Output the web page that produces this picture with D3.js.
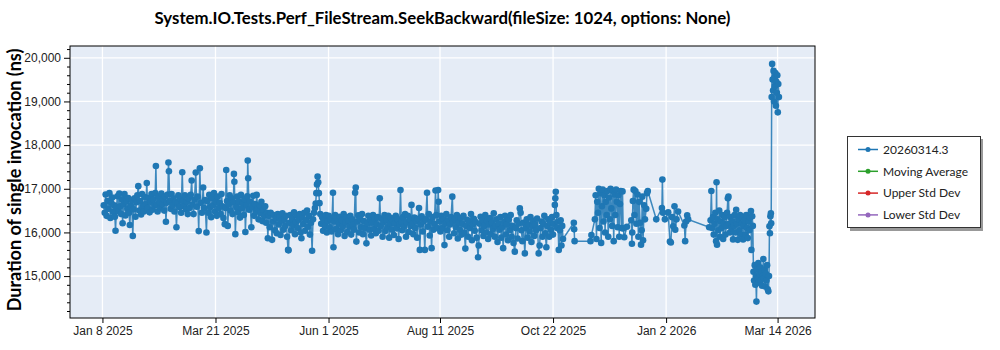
<!DOCTYPE html>
<html>
<head>
<meta charset="utf-8">
<script src="https://cdn.jsdelivr.net/npm/d3@7"></script>
<style>
  body { margin: 0; background: #fff; }
  svg { display: block; font-family: 'Lato', 'Open Sans', sans-serif; }
</style>
</head>
<body>
<div id="chart"></div>
<script>
const chartTitle = 'System.IO.Tests.Perf_FileStream.SeekBackward(fileSize: 1024, options: None)'
const yTitle = 'Duration of single invocation (ns)'
const seriesNames = ['20260314.3', 'Moving Average', 'Upper Std Dev', 'Lower Std Dev']
const seriesColors = ['#1f77b4', '#2ca02c', '#d62728', '#9467bd']
const xTickDates = ['2025-01-08', '2025-03-21', '2025-06-01', '2025-08-11', '2025-10-22', '2026-01-02', '2026-03-14']
const yTicks = [15000, 16000, 17000, 18000, 19000, 20000]

// [days since Jan 8 2025 20:00, duration ns]
const early2025 = [[0,16620],[0.6,16450],[1.2,16870],[1.8,16380],[2.4,16720],[3,16540],[3.6,16900],[4.2,16330],[4.8,16680],[5.4,16800],[6,16470],[6.6,16620],[7.1,16360],[7.5,16040],[8.1,16580],[8.7,16830],[9.3,16480],[9.9,16890],[10.5,16600],[11.1,16420],[11.6,16760],[12,16210],[12.6,16650],[13.2,16880],[13.8,16390],[14.4,16720],[15,16540],[15.6,16790],[16.1,16450],[16.6,16170],[17.2,16620],[17.8,16740],[18.5,15920],[19,16530],[19.6,16780],[20.2,16360],[20.8,16690],[21.4,16850],[22,17060],[22.6,16500],[23.2,16720],[23.8,16410],[24.4,16880],[25,16600],[25.6,16480],[26.2,16810],[26.8,16650],[27.4,17130],[28,16560],[28.6,16790],[29.2,16460],[29.8,16700],
  [30.4,16880],[31,16520],[31.6,16760],[32.2,16610],[32.8,16900],[33.2,17520],[33.7,16640],[34.3,16480],[34.9,16820],[35.5,16700],[36.1,16560],[36.7,16890],[37.3,16650],[37.9,16760],[38.5,16500],[39.1,16830],[39.6,16245],[40.2,16680],[40.8,16870],[41.2,17600],[41.5,17400],[42,16720],[42.6,16540],[43.2,16880],[43.8,16620],[44.4,16780],[45,16480],[45.7,16700],[46.3,16120],[46.9,16660],[47.5,16850],[48.1,16580],[48.7,16760],[49.3,16450],[50,17380],[50.5,16720],[51.1,16600],[51.7,16850],[52.3,16530],[52.9,16700],[53.5,16420],[54.1,16780],[54.7,16560],[55.4,16860],[56,17190],[56.6,16640],[57.2,16420],[57.8,16750],[58.6,17370],[59.2,16590],[59.8,16820],[60.5,16030],[61.2,17470],[61.8,16680],[62.5,16450],[63.3,17030],[63.9,16560],[64.5,16740],[65.4,16000]]

const spring2025 = [[66,16720],[66.6,16450],[67.2,16860],[67.8,16580],[68.4,16350],[69,16780],[69.6,16620],[70.2,16900],[70.8,16480],[71.4,16700],[72,16380],[72.6,16820],[73.2,16550],[73.8,16680],[74.4,16420],[75,16880],[75.6,16600],[76.2,16330],[77.1,16190],[77.6,16560],[78,17430],[78.5,16720],[79,16150],[79.6,16640],[80.2,16850],[80.8,16500],[81.4,16780],[82,16420],[82.6,16690],[82.9,17340],[83.2,17160],[83.8,15960],[84.4,16580],[85,16820],[85.6,16460],[86.2,16700],[86.8,16340],[87.4,16860],[88,16550],[88.6,16680],[89.2,16400],[89.8,16760],[90.2,16010],[90.8,16620],[91.4,16830],[91.7,17645],[92,17240],[92.6,16520],[93.2,16710],[94,16120],[94.6,16580],[95.2,16840],[95.8,16380],[96.4,16650],[97,16480],[97.4,16860],[98,16550],[98.6,16300],[99.2,16620],[99.8,16440],[100.4,16700],[101,16260],[101.6,16520],[102.2,16380],[102.8,16600],[103.4,16220],[104,16450],[104.5,15865],
  [105.1,16380],[105.7,16120],[106.3,16450],[107.2,15830],[107.8,16250],[108.4,16400],[109,16050],[109.6,16320],[110.2,15980],[110.8,16420],[111.4,16180],[112,16350],[112.6,15940],[113.2,16270],[113.8,16440],[114.4,16060],[115,16300],[115.6,16150],[116.2,16380],[116.8,15900],[117.4,15600],[117.7,15590],[118.2,16220],[118.8,16400],[119.4,16050],[120,16310],[120.6,16170],[121.2,16460],[121.8,15960],[122.4,16240],[123,16380],[123.6,16100],[124.2,16290],[124.8,16420],[125.4,16000],[125.9,15865],[126.5,16350],[127.1,16190],[127.7,16450],[128.3,16040],[128.9,16280],[129.5,16500],[130.1,16130],[130.7,16380],[131.3,15950],[132,16220],[132.7,15580],[133.3,16300],[133.9,16450],[134.5,16560],[135,16660],[135.4,16900],[135.8,17100],[136.2,17280],[136.6,17150],[137,16900],[137.4,16670],[137.9,16420],[138.5,16200],[139.1,16350],[139.7,16040],[140.3,16280],[140.9,16150],[141.5,16400],[142.1,16000],[142.7,16260]]

const summer2025 = [[143.3,16380],[143.9,16120],[144.5,16300],[145.1,16020],[146,16910],[146.3,15660],[146.8,16250],[147.4,16400],[148,16080],[148.6,16320],[149.2,15960],[149.8,16200],[150.4,16360],[151,16050],[151.6,16280],[152.2,16140],[152.8,16420],[153.4,15920],[154,16230],[154.6,16350],[155.2,16010],[155.8,16270],[156.4,16130],[157,16380],[157.6,15950],[158.2,16300],[158.8,16170],[159.4,16060],[160.1,16910],[160.5,17030],[160.9,15790],[161.5,16250],[162.1,16390],[162.7,16000],[163.3,16310],[163.9,16120],[164.5,16420],[165.1,15960],[165.7,16260],[166.3,16100],[167.3,15750],[167.9,16200],[168.5,16380],[169.1,16060],[169.7,16290],[170.3,15930],[170.9,16220],[171.5,16400],[172.1,16080],[172.7,16300],[173.3,15980],[173.9,16180],[174.5,16350],[175.1,16040],[175.8,16780],[176.4,16150],[177,16320],[177.6,15900],[178.2,16240],[178.8,16400],[179.4,16030],[180,16280],[180.6,16120],[181.2,16380],[181.8,15880],[182.4,16200],[183,16330],[183.6,16060],[184.2,16260],[184.8,15940],[185.4,16210],[186,16380],[186.6,16090],[187.2,16300],[187.8,15850],[188.4,16180],[189,16970],[189.5,16250],[190.1,16050],[190.7,16350],[191.3,16140],[191.9,16420],[192.5,15900],[193.1,16230],[193.7,16380],[194.3,16010],[194.9,16290],[195.5,16150],[196,16630],[196.6,16200],[197.2,15960],[197.8,16340],[198.4,16100],[199,16260],[199.6,15880],[200.2,16310],[200.8,16560],[201.3,15600],[201.9,16180],[202.5,16370],[203.1,16020],[203.7,16250],[204.5,15600],[205.1,16300],[205.9,16910],[206.4,16130],[207,16420],[207.6,15930],[208.2,16250],[208.8,15640],[209.4,16350],[210,16060],[210.6,16200],[211.3,16960],[211.8,16400],[212.4,16100],[213,16970],[213.3,16700],[213.8,16250],[214.4,16020]]

const autumn2025 = [[215,16380],[215.6,16100],[216.2,16300],[217,15710],[217.6,16200],[218.2,16420],[218.8,16050],[219.4,16280],[220,15900],[220.6,16180],[221.2,16350],[222,16820],[222.5,16250],[223.1,15980],[223.7,16300],[224.3,16120],[224.9,16400],[225.5,15860],[226.1,16220],[226.7,16060],[227.3,16330],[227.9,15950],[228.5,16200],[229.1,16380],[229.7,16000],[230.3,15630],[230.9,16150],[231.5,16290],[232.1,15900],[232.7,16250],[233.3,16100],[233.9,16420],[234.5,15820],[235.1,16180],[235.7,16310],[236.3,16040],[236.9,16240],[237.5,15880],[238.4,15430],[238.8,15700],[239.4,16200],[240,16360],[240.6,16050],[241.2,16280],[241.8,15920],[242.4,16150],[243,16400],[243.6,16000],[244.2,16260],[244.8,15850],[245.4,16180],[246,16330],[246.6,15960],[247.2,16220],[247.8,16080],[248.4,16440],[249,15900],[249.6,16150],[250.2,16300],[250.8,15780],[251.4,16200],[252,16060],[252.6,16350],[253.2,15880],[253.8,16120],[254.4,15640],[255,16240],[255.6,16380],[256.2,15950],[256.8,16180],[257.4,15820],[258,16300],[258.6,16050],[259.2,16400],[259.8,15900],[260.4,16150],[261,15760],[261.8,15560],[262.4,16100],[263,16280],[263.6,15860],[264.2,16200],[265,16550],[265.5,16450],[266,16050],[266.6,15800],[267.2,16220],[268.2,15520],[268.8,16100],[269.4,16300],[270,15880],[270.6,16180],[271.2,16020],[271.8,16350],[272.4,15780],[273,16150],[273.6,16260],[274.2,15920],[274.8,16180],[275.4,16050],[276,16320],[277,15520],[277.6,15700],[278.2,16100],[278.8,16250],[279.4,15900],[280,16200],[280.6,16380],[281.2,15980],[281.9,15660],[282.5,16150],[283.1,16300],[283.7,15900],[284.3,16220],[284.9,16060],[285.5,16350],[286.1,15950],[286.7,16200],[287.3,16630],[287.6,16780],[287.9,16930],[288.3,16400],[288.8,16100],[289.3,16250],[289.8,15600],
  [290.5,16050],[291,16280],[291.5,15700],[292,16150],[292.5,15850],[299.4,16220],[299.6,16070],[299.9,15800],[310,15800],[310.6,15940],
  [312.8,16300],[313.3,16850],[313.8,15850],[314.3,16700],[314.8,16450],[315.3,17000],[315.8,16100],[316.3,16900],[316.8,15760],[317.3,16600],[317.8,16980],[318.3,16250],[318.8,16850],[319.3,16000],[319.8,16700],[320.3,16400],[320.8,16950],[321.3,15900],[321.8,16800],[322.3,16300],[322.8,17000],[323.3,16550],[323.8,16150],[324.3,16950],[324.8,15800],[325.3,16870],[325.8,16400],[326.3,16980],[326.8,16700],[327.3,16120],[327.8,16850],[328.3,15900],[328.8,16650],[329.3,16950],[329.8,16100],[330.4,16940],[330.8,16090]]

const winter2026 = [[331.5,15890],[333.2,16130],[336,16280],[336.4,15740],[336.6,16000],[337,16720],[337.5,16980],[338,16400],[338.6,16950],[339.2,16200],[340,16870],[340.5,15900],[341,16700],[341.6,16220],[342.2,15720],[342.6,16050],[343,16820],[343.5,15820],[344.2,16620],[344.7,16300],[345.5,16540],[346,16900],[346.5,16950],
  [351.9,16300],[355.5,16560],[355.8,17210],[356.2,16450],[357.4,16300],[359.5,16460],[360.6,15790],[361.2,15770],[362,16350],[362.7,16140],[363.5,16600],[364,16060],[364.8,16300],[365.8,16480],[369.8,16160],[370.3,15800],[370.9,16250],[371.6,16390],[372.2,16300],[385.6,16120],
  [386.5,16280],[387,16950],[387.5,16100],[388,16350],[388.5,15950],[389,16200],[389.5,16450],[390,15800],[390.3,17150],[390.6,15720],[391,16300],[391.5,16050],[392,16500],[392.5,15900],[393,16250],[393.5,16100],[394,16400],[394.5,15850],[395,16200],[395.5,16350],[396,15950],[396.5,16150],[397,16450],[397.5,16780],[397.9,16820],[398.3,16200],[398.8,16000],[399.3,16350],[399.8,16100],[400.3,16250],[400.8,15840],[401.3,16150],[401.8,16400],[402.3,16000],[402.8,16520],[403.3,16200],[403.8,15830],[404.3,16300],[404.8,16050],[405.3,16400],[405.8,15950],[406.3,16200],[406.8,16350],[407.2,15840],[407.7,16150],[408.2,16280],[408.7,15950],[409.2,16400],[409.7,16100],[410.2,15870],[410.7,16250],[411.2,16050],[411.7,16350],[412.2,16490],[412.5,15600],[413,16370],[413.4,16150]]

const march2026 = [[413.8,15100],[414.2,14900],[414.6,15250],[415,14800],[415.3,15000],[415.7,14416],[416.1,15150],[416.5,14950],[416.9,15300],[417.3,14850],[417.7,15050],[418.1,15200],[418.5,14900],[418.9,15100],[419.3,14780],[419.7,15000],[420.1,15390],[420.5,14950],[420.9,15150],[421.3,14760],[421.7,15050],[422.1,14900],[422.5,15250],[422.9,14700],[423.3,14650],[423.7,15000],
  [424,16140],[424.3,15980],[424.6,16370],[424.9,16440],[425.1,16210],
  [425.4,19100],[425.7,19860],[426,19500],[426.3,19250],[426.6,19700],[426.9,19000],[427.2,19550],[427.5,19350],[427.8,19650],[428.1,18900],[428.4,19450],[428.7,19200],[429,19600],[429.3,18750],[429.6,19400],[430,19100]]

const startDate = new Date(2025, 0, 8, 20)
const dayMs = 864e5

const drawChart = () => {
  const width = 1000
  const height = 350
  const plot = { left: 70, right: 815, top: 46, bottom: 318 }

  const data = [].concat(early2025, spring2025, summer2025, autumn2025, winter2026, march2026)
    .map(([d, v]) => ({ date: new Date(+startDate + d * dayMs), ns: v }))

  const svg = d3.select('#chart').append('svg')
    .attr('width', width)
    .attr('height', height)

  const dateExtent = d3.extent(data, d => d.date)
  const xScale = d3.scaleTime()
    .domain([new Date(+dateExtent[0] - 21.5 * dayMs), new Date(+dateExtent[1] + 23 * dayMs)])
    .range([plot.left, plot.right])

  const yScale = d3.scaleLinear()
    .domain([14040, 20270])
    .range([plot.bottom, plot.top])

  const tickDates = xTickDates.map(s => d3.timeParse('%Y-%m-%d')(s))

  // plot background
  svg.append('rect')
    .attr('x', plot.left)
    .attr('y', plot.top)
    .attr('width', plot.right - plot.left)
    .attr('height', plot.bottom - plot.top)
    .style('fill', '#e5ecf6')

  // grid
  const grid = svg.append('g').attr('class', 'grid')
  grid.selectAll('.hgrid')
    .data(yTicks)
    .enter().append('line')
    .attr('x1', plot.left)
    .attr('x2', plot.right)
    .attr('y1', d => yScale(d))
    .attr('y2', d => yScale(d))
    .style('stroke', '#fff')
    .style('stroke-width', 1.3)
  grid.selectAll('.vgrid')
    .data(tickDates)
    .enter().append('line')
    .attr('x1', d => xScale(d))
    .attr('x2', d => xScale(d))
    .attr('y1', plot.top)
    .attr('y2', plot.bottom)
    .style('stroke', '#fff')
    .style('stroke-width', 1.3)

  // series
  const line = d3.line()
    .x(d => xScale(d.date))
    .y(d => yScale(d.ns))

  svg.append('path')
    .datum(data)
    .attr('d', line)
    .style('fill', 'none')
    .style('stroke', seriesColors[0])
    .style('stroke-width', 1.5)
    .style('stroke-opacity', 0.85)

  svg.append('g')
    .selectAll('circle')
    .data(data)
    .enter().append('circle')
    .attr('cx', d => xScale(d.date))
    .attr('cy', d => yScale(d.ns))
    .attr('r', 3.3)
    .style('fill', seriesColors[0])

  // frame
  svg.append('rect')
    .attr('x', plot.left)
    .attr('y', plot.top)
    .attr('width', plot.right - plot.left)
    .attr('height', plot.bottom - plot.top)
    .style('fill', 'none')
    .style('stroke', '#000')
    .style('stroke-width', 1)

  // axes
  const xAxis = d3.axisBottom(xScale)
    .tickValues(tickDates)
    .tickFormat(d3.timeFormat('%b %-d %Y'))
    .tickSize(5)
    .tickPadding(3)

  const yAxis = d3.axisLeft(yScale)
    .tickValues(yTicks)
    .tickFormat(d3.format(','))
    .tickSize(6)
    .tickPadding(3)

  const yMinor = d3.axisLeft(yScale)
    .tickValues(d3.range(14200, 20201, 200).filter(v => v % 1000 !== 0))
    .tickFormat('')
    .tickSize(3)

  const gx = svg.append('g')
    .attr('transform', `translate(0, ${plot.bottom})`)
    .call(xAxis)
  const gy = svg.append('g')
    .attr('transform', `translate(${plot.left}, 0)`)
    .call(yAxis)
  const gm = svg.append('g')
    .attr('transform', `translate(${plot.left}, 0)`)
    .call(yMinor)

  ;[gx, gy, gm].forEach(g => {
    g.select('.domain').remove()
    g.selectAll('text').style('font-size', '12px').style('fill', '#222')
    g.selectAll('line').style('stroke', '#000')
  })

  // title
  svg.append('text')
    .attr('x', (plot.left + plot.right) / 2)
    .attr('y', 24)
    .attr('text-anchor', 'middle')
    .style('font-size', '16.8px')
    .style('font-weight', 'bold')
    .text(chartTitle)

  svg.append('text') // Y-axis Label
    .attr('transform', `translate(21, ${(plot.top + plot.bottom) / 2 - 2}) rotate(-90)`)
    .attr('text-anchor', 'middle')
    .style('font-size', '18px')
    .style('font-weight', 'bold')
    .text(yTitle)

  // legend
  const legend = svg.append('g').attr('transform', 'translate(847, 136)')
  legend.append('rect')
    .attr('x', 3)
    .attr('y', 3)
    .attr('width', 133)
    .attr('height', 92)
    .style('fill', '#999')
  legend.append('rect')
    .attr('x', 0.5)
    .attr('y', 0.5)
    .attr('width', 133)
    .attr('height', 91)
    .style('fill', '#fff')
    .style('stroke', '#333')

  const items = legend.selectAll('.item')
    .data(seriesNames)
    .enter().append('g')
    .attr('transform', (d, i) => `translate(0, ${13.5 + i * 21.8})`)
  items.append('line')
    .attr('x1', 11)
    .attr('x2', 31)
    .style('stroke', (d, i) => seriesColors[i])
    .style('stroke-width', 1.5)
  items.append('circle')
    .attr('cx', 21)
    .attr('r', 2.5)
    .style('fill', (d, i) => seriesColors[i])
  items.append('text')
    .attr('x', 36)
    .attr('dy', '0.35em')
    .style('font-size', '12px')
    .style('fill', '#222')
    .text(d => d)
}

drawChart()
</script>
</body>
</html>
